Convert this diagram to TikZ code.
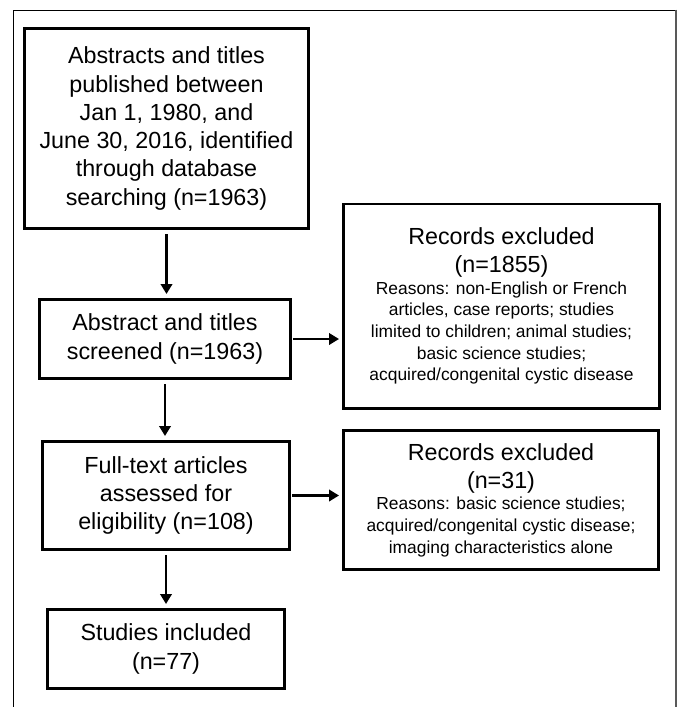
\documentclass[tikz,border=0pt]{standalone}
\usepackage{fontspec}
\setmainfont{Liberation Sans}
\usetikzlibrary{arrows.meta,calc}
\begin{document}
\begin{tikzpicture}[x=1pt,y=-1pt,
  box/.style={draw, line width=2.7pt, inner sep=0pt, align=flush center,
    font=\fontsize{23.3pt}{28.3pt}\selectfont},
  arr/.style={line width=2.2pt, -{Triangle[length=10pt,width=11.5pt]}},
  vshort/.style={shorten <=4pt, shorten >=4pt},
  hshort/.style={shorten <=1.4pt, shorten >=3pt}
]
\useasboundingbox (0,0) rectangle (679,707);
\draw[line width=1pt] (13,707) -- (13,10) -- (676,10);
\draw[line width=2pt, black!65] (676,9.5) -- (676,707);

\node[box, minimum width=284.3pt, minimum height=200.3pt] (b1) at (166.5,128.5)
  {Abstracts and titles\\published between\\Jan 1, 1980, and\\June 30, 2016, identified\\through database\\searching (n=1963)};
\node[box, minimum width=251.3pt, minimum height=79.3pt] (b2) at (165,339)
  {Abstract and titles\\screened (n=1963)};
\node[box, minimum width=247.3pt, minimum height=108.3pt] (b3) at (166,495.5)
  {Full-text articles\\assessed for\\eligibility (n=108)};
\node[box, minimum width=237.3pt, minimum height=79.3pt] (b4) at (166,649)
  {Studies included\\(n=77)};

\node[box, minimum width=316.3pt, minimum height=204.3pt, text width=312pt] (r1) at (501.5,306)
  {{\fontsize{23.3pt}{28.3pt}\selectfont Records excluded\\(n=1855)\par}%
   {\fontsize{17.4pt}{21.6pt}\selectfont Reasons: non-English or French\\articles, case reports; studies\\limited to children; animal studies;\\basic science studies;\\acquired/congenital cystic disease\par}};
\node[box, minimum width=315.3pt, minimum height=139.3pt, text width=312pt] (r2) at (501,500)
  {{\fontsize{23.3pt}{28.3pt}\selectfont Records excluded\\(n=31)\par}%
   {\fontsize{17.4pt}{21.6pt}\selectfont Reasons: basic science studies;\\acquired/congenital cystic disease;\\imaging characteristics alone\par}};

\draw[arr, vshort] (b1.south) -- (b1.south |- b2.north);
\draw[arr, vshort] (b2.south) -- (b2.south |- b3.north);
\draw[arr, vshort] (b3.south) -- (b3.south |- b4.north);
\draw[arr, hshort] (b2.east) -- (b2.east -| r1.west);
\draw[arr, hshort] (b3.east) -- (b3.east -| r2.west);
\end{tikzpicture}
\end{document}
